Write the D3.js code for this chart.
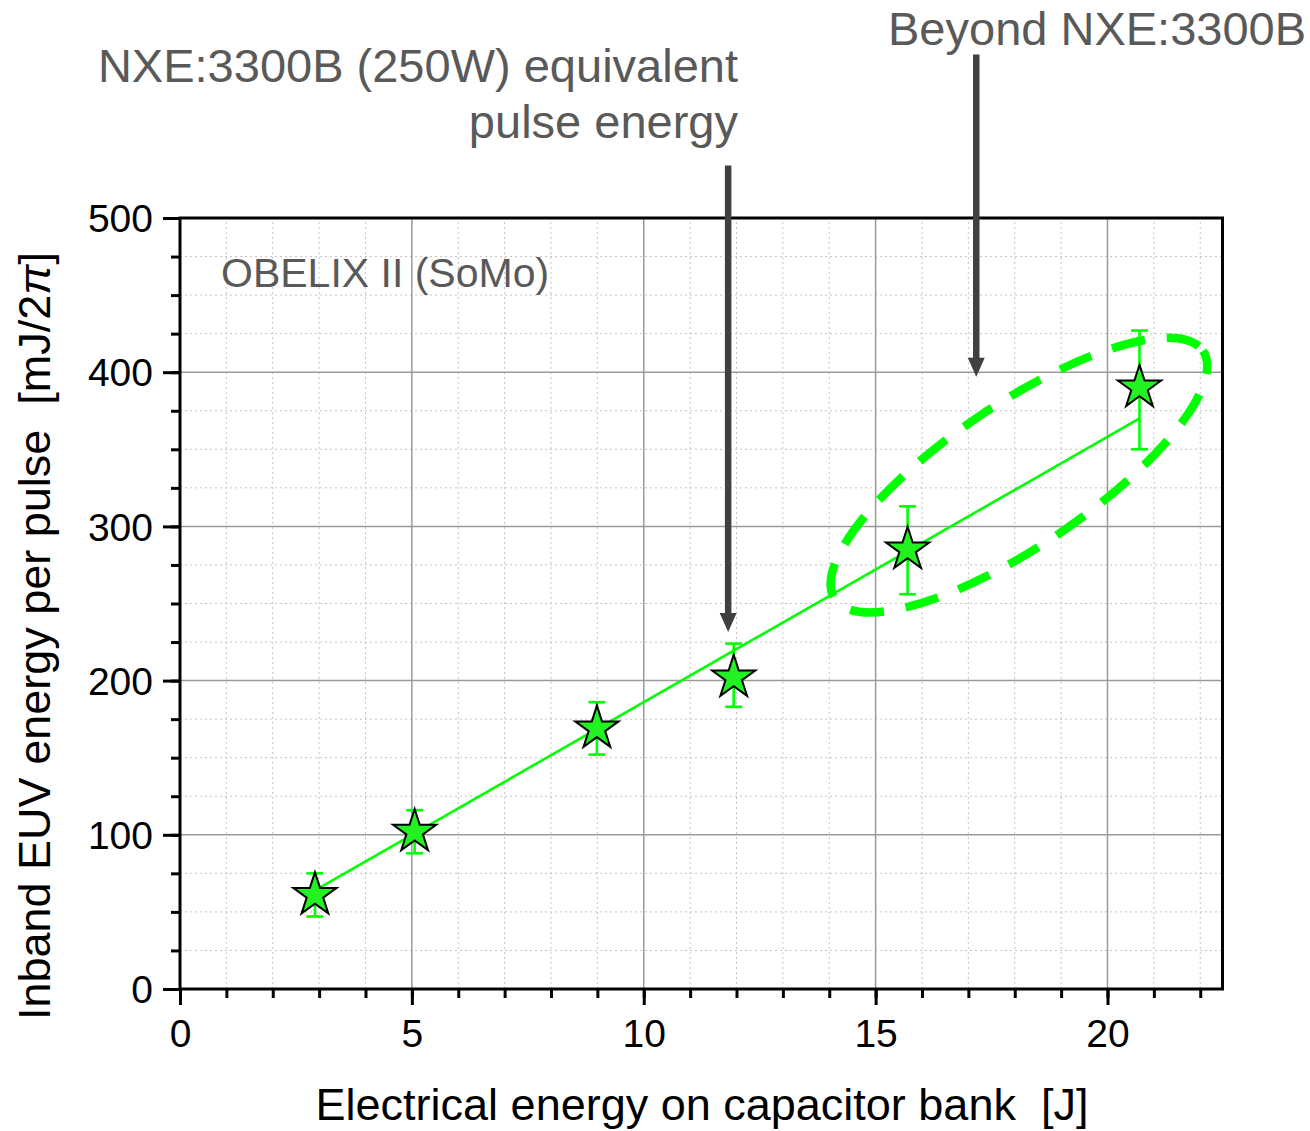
<!DOCTYPE html>
<html>
<head>
<meta charset="utf-8">
<script src="https://cdn.jsdelivr.net/npm/d3@7"></script>
<style>
  html, body { margin: 0; padding: 0; background: #fff; }
  svg { display: block; font-family: "Liberation Sans", Arial, sans-serif; }
</style>
</head>
<body>
<svg id="chart" width="1310" height="1131"></svg>
<script>
// ---- data ----
const energyJ   = [2.91, 5.06, 8.99, 11.94, 15.69, 20.69];
const euvMJ     = [61, 102, 169, 202, 285, 390];
const errHigh   = [75, 116, 186, 224, 313, 427];
const errLow    = [47, 88, 152, 183, 256, 350];
const fitX      = [2.91, 20.69];
const fitY      = [64, 370];
const xTicks    = [0, 5, 10, 15, 20];
const yTicks    = [0, 100, 200, 300, 400, 500];
const xMinor    = d3.range(0, 23, 1);
const yMinor    = d3.range(0, 501, 25);
const labelPlot = "OBELIX II (SoMo)";
const noteA     = ["NXE:3300B (250W) equivalent", "pulse energy"];
const noteB     = "Beyond NXE:3300B";
const arrowA    = { x: 11.82, yTop: 534, yTip: 231.5 };
const arrowB    = { x: 17.17, yTop: 606, yTip: 397 };
const ellipseC  = { x: 18.09, y: 333.3 };

// ---- layout ----
const W = 1310, H = 1131;
const m = { left: 180, right: 87.5, top: 218, bottom: 142 };
const svg = d3.select("#chart");
const x = d3.scaleLinear().domain([0, 22.48]).range([m.left, W - m.right]);
const y = d3.scaleLinear().domain([0, 500]).range([H - m.bottom, m.top]);
const x0 = x.range()[0], x1 = x.range()[1], y0 = y.range()[0], y1 = y.range()[1];

const textGrey = "#595959";
const green = "#00ff00";
const starFill = "#22f222";

// minor grid
const g = svg.append("g");
g.selectAll(".vminor").data(xMinor.filter(d => d % 5 !== 0)).join("line")
  .attr("x1", d => x(d)).attr("x2", d => x(d)).attr("y1", y0).attr("y2", y1)
  .attr("stroke", "#c4c4c4").attr("stroke-width", 1).attr("stroke-dasharray", "2,3");
g.selectAll(".hminor").data(yMinor.filter(d => d % 100 !== 0)).join("line")
  .attr("y1", d => y(d)).attr("y2", d => y(d)).attr("x1", x0).attr("x2", x1)
  .attr("stroke", "#c4c4c4").attr("stroke-width", 1).attr("stroke-dasharray", "2,3");
// major grid
g.selectAll(".vmajor").data(xTicks.filter(d => d > 0)).join("line")
  .attr("x1", d => x(d)).attr("x2", d => x(d)).attr("y1", y0).attr("y2", y1)
  .attr("stroke", "#9a9a9a").attr("stroke-width", 1.5);
g.selectAll(".hmajor").data(yTicks.filter(d => d > 0 && d < 500)).join("line")
  .attr("y1", d => y(d)).attr("y2", d => y(d)).attr("x1", x0).attr("x2", x1)
  .attr("stroke", "#9a9a9a").attr("stroke-width", 1.5);

// axes
const xAxisMinor = d3.axisBottom(x).tickValues(xMinor.filter(d => d <= 22)).tickSize(9).tickFormat("");
const xAxisMajor = d3.axisBottom(x).tickValues(xTicks).tickSize(16).tickPadding(14).tickFormat(d3.format("d"));
const yAxisMinor = d3.axisLeft(y).tickValues(yMinor).tickSize(9).tickFormat("");
const yAxisMajor = d3.axisLeft(y).tickValues(yTicks).tickSize(17).tickPadding(10).tickFormat(d3.format("d"));

function styleAxis(sel) {
  sel.select(".domain").remove();
  sel.selectAll("line").attr("stroke", "#000").attr("stroke-width", 3);
  sel.selectAll("text").attr("fill", "#000").attr("font-size", 39)
    .attr("font-family", "'Liberation Sans', Arial, sans-serif");
}
svg.append("g").attr("transform", `translate(0,${y0})`).call(xAxisMinor).call(styleAxis);
svg.append("g").attr("transform", `translate(0,${y0})`).call(xAxisMajor).call(styleAxis);
svg.append("g").attr("transform", `translate(${x0},0)`).call(yAxisMinor).call(styleAxis);
const yl = svg.append("g").attr("transform", `translate(${x0},0)`).call(yAxisMajor).call(styleAxis);
yl.selectAll("text").attr("dy", "0.35em");

// frame
svg.append("rect").attr("x", x0).attr("y", y1).attr("width", x1 - x0).attr("height", y0 - y1)
  .attr("fill", "none").attr("stroke", "#000").attr("stroke-width", 3);

// fit line
const line = d3.line().x(d => x(d[0])).y(d => y(d[1]));
svg.append("path").datum(d3.zip(fitX, fitY)).attr("d", line)
  .attr("fill", "none").attr("stroke", green).attr("stroke-width", 2.6);

// error bars
const pts = energyJ.map((e, i) => ({ x: e, y: euvMJ[i], lo: errLow[i], hi: errHigh[i] }));
const eb = svg.append("g").attr("stroke", green).attr("stroke-width", 2.6);
eb.selectAll(".ev").data(pts).join("line")
  .attr("x1", d => x(d.x)).attr("x2", d => x(d.x)).attr("y1", d => y(d.lo)).attr("y2", d => y(d.hi));
eb.selectAll(".ch").data(pts).join("line")
  .attr("x1", d => x(d.x) - 8.5).attr("x2", d => x(d.x) + 8.5).attr("y1", d => y(d.hi)).attr("y2", d => y(d.hi));
eb.selectAll(".cl").data(pts).join("line")
  .attr("x1", d => x(d.x) - 8.5).attr("x2", d => x(d.x) + 8.5).attr("y1", d => y(d.lo)).attr("y2", d => y(d.lo));

// stars
const star = d3.symbol().type(d3.symbolStar).size(580);
svg.selectAll(".star").data(pts).join("path")
  .attr("d", star)
  .attr("transform", d => `translate(${x(d.x)},${y(d.y)})`)
  .attr("fill", starFill).attr("stroke", "#000").attr("stroke-width", 2).attr("stroke-linejoin", "miter");

// dashed ellipse
svg.append("ellipse")
  .attr("cx", 0).attr("cy", 0).attr("rx", 222).attr("ry", 71)
  .attr("transform", `translate(${x(ellipseC.x)},${y(ellipseC.y)}) rotate(-34)`)
  .attr("fill", "none").attr("stroke", green).attr("stroke-width", 8.5)
  .attr("stroke-dasharray", "34,22").attr("stroke-dashoffset", 10);

// arrows
function arrow(a) {
  const ax = x(a.x), top = y(a.yTop), tip = y(a.yTip);
  const headLen = 19, headHalf = 8.5;
  svg.append("line").attr("x1", ax).attr("x2", ax).attr("y1", top).attr("y2", tip - headLen + 1)
    .attr("stroke", "#404040").attr("stroke-width", 6.5);
  svg.append("path")
    .attr("d", `M${ax - headHalf},${tip - headLen} L${ax + headHalf},${tip - headLen} L${ax},${tip} Z`)
    .attr("fill", "#404040");
}
arrow(arrowA);
arrow(arrowB);

// texts
svg.append("text").attr("x", 221).attr("y", 287).attr("font-size", 41).attr("fill", textGrey).text(labelPlot);
svg.append("text").attr("x", 738).attr("y", 82).attr("font-size", 47).attr("fill", textGrey)
  .attr("text-anchor", "end").text(noteA[0]);
svg.append("text").attr("x", 738).attr("y", 138).attr("font-size", 47).attr("fill", textGrey)
  .attr("text-anchor", "end").text(noteA[1]);
svg.append("text").attr("x", 888).attr("y", 45).attr("font-size", 47).attr("fill", textGrey).text(noteB);

// axis titles
svg.append("text").attr("x", 702).attr("y", 1120).attr("font-size", 45).attr("fill", "#000")
  .attr("text-anchor", "middle").style("white-space", "pre")
  .text("Electrical energy on capacitor bank  [J]");
const yt = svg.append("text").attr("transform", "translate(50,636) rotate(-90)")
  .attr("font-size", 45).attr("fill", "#000").attr("text-anchor", "middle").style("white-space", "pre");
yt.append("tspan").text("Inband EUV energy per pulse  [mJ/2");
yt.append("tspan").attr("font-style", "italic").text("π");
yt.append("tspan").text("]");
</script>
</body>
</html>
